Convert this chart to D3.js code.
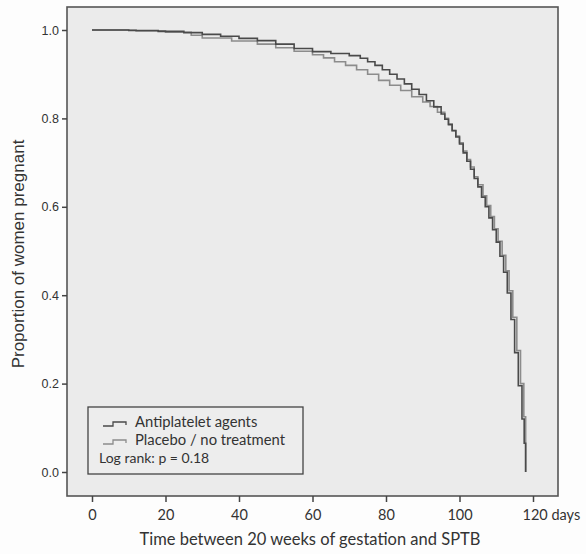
<!DOCTYPE html>
<html><head><meta charset="utf-8">
<script src="https://cdn.jsdelivr.net/npm/d3@7"></script>
<style>body{margin:0;background:#fdfdfd}svg{display:block}</style>
</head><body><div id="chart"></div>
<script>
// Kaplan-Meier step data: [days, proportion pregnant]
const antiplatelet = [
 [0,1.000],[10,0.999],[18,0.997],[25,0.994],[30,0.990],[35,0.986],[40,0.981],[45,0.976],
 [50,0.968],[55,0.958],[60,0.951],[65,0.947],[70,0.942],[73,0.936],[75,0.928],[77,0.920],
 [79,0.910],[81,0.900],[83,0.889],[85,0.878],[87,0.866],[89,0.854],[91,0.840],[93,0.826],
 [95,0.810],[96,0.798],[97,0.786],[98,0.772],[99,0.758],[100,0.742],[101,0.722],[102,0.703],
 [103,0.685],[104,0.664],[105,0.645],[106,0.622],[107,0.600],[108,0.575],[109,0.548],[110,0.520],
 [111,0.488],[112,0.452],[113,0.405],[114,0.345],[115,0.270],[116,0.195],[117,0.120],[117.6,0.065],[118,0.000]
];
const placebo = [
 [0,1.000],[12,0.998],[20,0.995],[27,0.988],[30,0.982],[38,0.975],[45,0.968],[50,0.960],
 [55,0.952],[60,0.944],[63,0.937],[66,0.928],[69,0.920],[72,0.910],[75,0.900],[78,0.886],
 [81,0.875],[84,0.863],[87,0.849],[90,0.837],[92,0.827],[94,0.814],[96,0.800],[97,0.787],
 [98,0.773],[99,0.760],[100,0.745],[101,0.726],[102,0.707],[103,0.690],[104,0.668],[105,0.650],
 [106.4,0.625],[107.4,0.603],[108.5,0.578],[109.5,0.550],[110.5,0.522],[111.6,0.490],[112.6,0.455],
 [113.5,0.410],[114.5,0.350],[115.6,0.275],[116.6,0.200],[117.5,0.125],[118,0.065],[118,0.000]
];
const xTicks = [0,20,40,60,80,100,120];
const xTickLabels = ["0","20","40","60","80","100","120 days"];
const yTicks = [0,0.2,0.4,0.6,0.8,1.0];
const seriesNames = ["Antiplatelet agents","Placebo / no treatment"];
const seriesColors = ["#4a4a4a","#8c8c8c"];
const noteText = "Log rank: p = 0.18";

const W=586,H=554;
const svg=d3.select("#chart").append("svg").attr("width",W).attr("height",H);
const frame={l:67,t:7,r:558,b:496};
const x=d3.scaleLinear().domain([0,120]).range([92,533]);
const y=d3.scaleLinear().domain([0,1]).range([472,30]);

svg.append("rect").attr("x",frame.l).attr("y",frame.t).attr("width",frame.r-frame.l).attr("height",frame.b-frame.t)
  .attr("fill","#ebebeb").attr("stroke","#555").attr("stroke-width",1.6);

// axes
const yAxis=svg.append("g").attr("transform",`translate(${frame.l},0)`)
  .call(d3.axisLeft(y).tickValues(yTicks).tickFormat(d3.format(".1f")).tickSize(5).tickPadding(3));
yAxis.select(".domain").remove();
yAxis.selectAll("line").attr("stroke","#444").attr("stroke-width",1.5);
yAxis.selectAll("text").attr("font-family","Liberation Sans, Arial, sans-serif").attr("font-size",12.5).attr("fill","#333");

const xAxis=svg.append("g").attr("transform",`translate(0,${frame.b})`)
  .call(d3.axisBottom(x).tickValues(xTicks).tickFormat((d,i)=>xTickLabels[i]).tickSize(6).tickPadding(8));
xAxis.select(".domain").remove();
xAxis.selectAll("line").attr("stroke","#444").attr("stroke-width",1.5);
xAxis.selectAll("text").attr("font-family","Lato, sans-serif").attr("font-size",14.5).attr("fill","#333");
xAxis.selectAll(".tick").filter((d,i)=>i===xTicks.length-1).select("text").attr("text-anchor","start").attr("dx",-11);

svg.append("text").attr("x",310).attr("y",545).attr("text-anchor","middle")
  .attr("font-family","Lato, sans-serif").attr("font-size",16.5).attr("fill","#333")
  .text("Time between 20 weeks of gestation and SPTB");
svg.append("text").attr("transform","translate(24,254) rotate(-90)").attr("text-anchor","middle")
  .attr("font-family","Liberation Sans, Arial, sans-serif").attr("font-size",17).attr("fill","#333")
  .text("Proportion of women pregnant");

// curves
const line=d3.line().x(d=>x(d[0])).y(d=>y(d[1])).curve(d3.curveStepAfter);
[placebo,antiplatelet].forEach((s,i)=>{
  svg.append("path").datum(s).attr("d",line).attr("fill","none")
    .attr("stroke",i===0?seriesColors[1]:seriesColors[0]).attr("stroke-width",1.6);
});

// legend
const lg=svg.append("g");
lg.append("rect").attr("x",88).attr("y",407).attr("width",215).attr("height",67)
  .attr("fill","#ededed").attr("stroke","#444").attr("stroke-width",1.3);
seriesNames.forEach((n,i)=>{
  const yy=427+i*18;
  lg.append("path").attr("d",`M103,${yy-1}H113V${yy-5}H126V${yy-2}`).attr("fill","none")
    .attr("stroke",seriesColors[i]).attr("stroke-width",1.3);
  lg.append("text").attr("x",135).attr("y",yy).attr("font-family","Lato, sans-serif")
    .attr("font-size",14.8).attr("fill","#333").text(n);
});
lg.append("text").attr("x",99).attr("y",463).attr("font-family","Lato, sans-serif")
  .attr("font-size",14).attr("fill","#333").text(noteText);
</script></body></html>
